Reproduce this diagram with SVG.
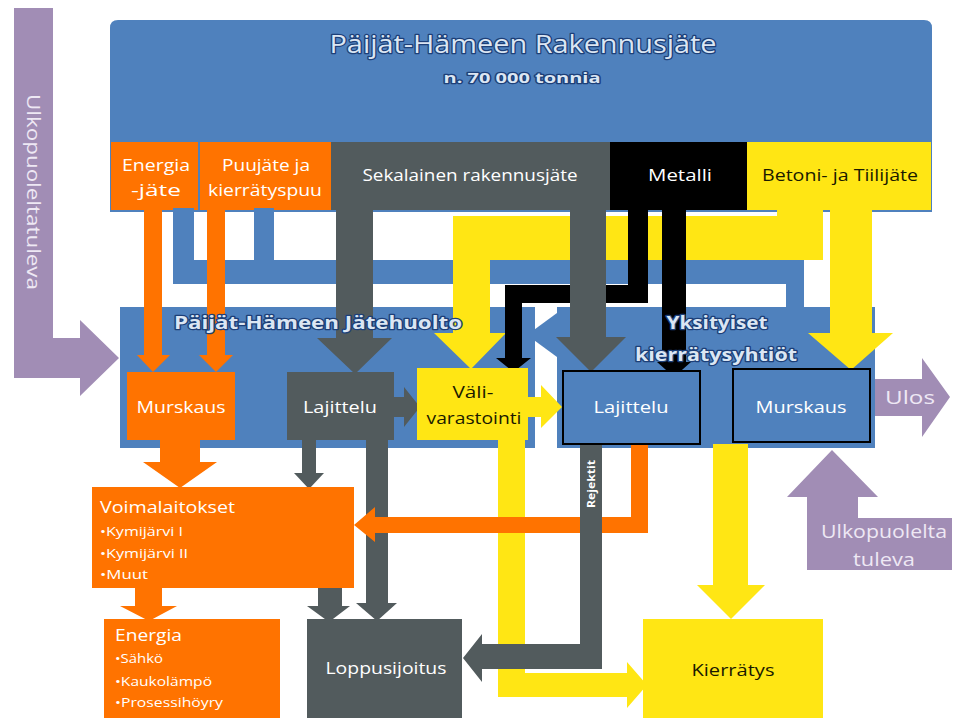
<svg xmlns="http://www.w3.org/2000/svg" width="957" height="718" viewBox="0 0 957 718">
  <style>
    .blue { fill: #4f81bd; }
    .orange { fill: #ff7300; }
    .gray { fill: #525b5d; }
    .black { fill: #000000; }
    .yellow { fill: #ffe614; }
    .purple { fill: #a18db5; }
    text { font-family: "Open Sans", "Liberation Sans", sans-serif; }
    .lbl { fill: #ffffff; font-size: 17px; text-anchor: middle; }
    .dark { fill: #1a1a00; font-size: 17px; text-anchor: middle; }
    .item { fill: #ffffff; font-size: 12px; }
    .head { fill: #ffffff; font-size: 17px; }
    .glow { fill: #dbe6f3; stroke: #1d3f78; stroke-width: 2.5; paint-order: stroke; stroke-linejoin: round; text-anchor: middle; }
    .side { fill: #eee8f4; font-size: 19px; text-anchor: middle; }
    .box { stroke: #000000; stroke-width: 2; }
  </style>

  <!-- incoming / outgoing flows from outside the region -->
  <g id="outside-left">
    <path class="purple" d="M14 8 H53 V338 H80 V320 L119 358 L80 396 V378 H14 Z"/>
    <text class="side" transform="translate(27 192) rotate(90)" textLength="196" lengthAdjust="spacingAndGlyphs" font-size="18">Ulkopuoleltatuleva</text>
  </g>
  <g id="outside-bottom">
    <path class="purple" d="M807 518 V497 H787 L832 450 L878 497 H858 V518 H952 V570 H807 Z"/>
    <text class="side" x="884" y="538" textLength="126" lengthAdjust="spacingAndGlyphs">Ulkopuolelta</text>
    <text class="side" x="884" y="566" textLength="62" lengthAdjust="spacingAndGlyphs">tuleva</text>
  </g>
  <g id="ulos">
    <path class="purple" d="M875 379 H922 V358 L950 397 L922 437 V416 H875 Z"/>
    <text class="side" x="910" y="404" font-size="20" textLength="50" lengthAdjust="spacingAndGlyphs">Ulos</text>
  </g>

  <!-- source: total construction waste and its fractions -->
  <g id="rakennusjate">
    <path class="blue" d="M110 212 V28 Q110 20 118 20 H924 Q932 20 932 28 V212 Z"/>
    <text class="glow" x="523" y="53" font-size="26" textLength="387" lengthAdjust="spacingAndGlyphs">Päijät-Hämeen Rakennusjäte</text>
    <text class="glow" x="522" y="83" font-size="15" stroke-width="2" font-weight="bold" textLength="157" lengthAdjust="spacingAndGlyphs">n. 70 000 tonnia</text>
  </g>
  <g id="energiajate">
    <rect class="orange" x="111" y="142" width="87" height="68"/>
    <text class="lbl" x="156" y="171" textLength="68" lengthAdjust="spacingAndGlyphs">Energia</text>
    <text class="lbl" x="156" y="196" textLength="50" lengthAdjust="spacingAndGlyphs">-jäte</text>
  </g>
  <g id="puujate">
    <rect class="orange" x="200" y="142" width="131" height="68"/>
    <text class="lbl" x="266" y="171" textLength="88" lengthAdjust="spacingAndGlyphs">Puujäte ja</text>
    <text class="lbl" x="265" y="196" textLength="114" lengthAdjust="spacingAndGlyphs">kierrätyspuu</text>
  </g>
  <g id="sekalainen">
    <rect class="gray" x="331" y="142" width="280" height="68"/>
    <text class="lbl" x="470" y="181" textLength="215" lengthAdjust="spacingAndGlyphs">Sekalainen rakennusjäte</text>
  </g>
  <g id="metalli">
    <rect class="black" x="610" y="142" width="137" height="68"/>
    <text class="lbl" x="680" y="181" textLength="64" lengthAdjust="spacingAndGlyphs">Metalli</text>
  </g>
  <g id="betoni">
    <rect class="yellow" x="747" y="142" width="184" height="68"/>
    <text class="dark" x="840" y="181" textLength="156" lengthAdjust="spacingAndGlyphs">Betoni- ja Tiilijäte</text>
  </g>

  <!-- treatment regions -->
  <g id="jatehuolto">
    <rect class="blue" x="120" y="307" width="415" height="141"/>
  </g>
  <g id="yksityiset">
    <rect class="blue" x="557" y="307" width="318" height="141"/>
  </g>

  <!-- material flows -->
  <g id="connectors">
    <path class="blue" d="M173 208 H194 V260 H254 V208 H274 V260 H804 V358 H812 L795 375 L778 358 H786 V284 H173 Z"/>
    <path class="blue" d="M557 313 L527 335 L557 357 Z"/>
    <path class="yellow" d="M453 216 H777 V210 H823 V260 H490 V333 H506 L471 369 L434 333 H453 Z"/>
    <path class="yellow" d="M830 210 H872 V333 H893 L851 370 L808 333 H830 Z"/>
    <path class="black" d="M628 210 H648 V303 H522 V358 H531 L513.5 372 L496 358 H505 V285 H628 Z"/>
    <path class="black" d="M662 210 H686 V362 H691 L674 377 L657 362 H662 Z"/>
    <path class="gray" d="M336 210 H373 V338 H392 L355 374 L317 338 H336 Z"/>
    <path class="gray" d="M570 210 H606 V337 H626 L591 372 L556 337 H570 Z"/>
    <path class="orange" d="M144 210 H162 V355 H170 L153 372 L137 355 H144 Z"/>
    <path class="orange" d="M207 210 H225 V355 H233 L216 372 L199 355 H207 Z"/>

    <path class="gray" d="M394 397 H404 V387 L420 407 L404 427 V417 H394 Z"/>
    <path class="yellow" d="M528 397 H541 V385 L562 407 L541 428 V417 H528 Z"/>

    <path class="orange" d="M160 440 H200 V462 H217 L180 488 L143 462 H160 Z"/>
    <path class="gray" d="M302 440 H316 V473 H324 L309 489 L294 473 H302 Z"/>
    <path class="gray" d="M366 440 H388 V603 H397 L377 621 L356 603 H366 Z"/>
    <path class="gray" d="M318 588 H342 V606 H350 L329 622 L307 606 H318 Z"/>
    <path class="orange" d="M135 588 H162 V606 H177 L149 621 L120 606 H135 Z"/>

    <path class="yellow" d="M498 440 H525 V673 H627 V662 L647 685 L627 708 V697 H498 Z"/>
    <path class="yellow" d="M713 444 H748 V585 H765 L731 619 L697 585 H713 Z"/>
    <path class="orange" d="M631 444 H648 V533 H375 V542 L354 525 L375 507 V517 H631 Z"/>
    <path class="gray" d="M580 444 H602 V669 H482 V682 L463 658 L482 634 V644 H580 Z"/>
    <text fill="#ffffff" font-size="11" font-weight="bold" text-anchor="middle" transform="translate(595 484) rotate(-90)" textLength="48" lengthAdjust="spacingAndGlyphs">Rejektit</text>
  </g>

  <!-- region titles sit above the flows -->
  <g id="jatehuolto-title">
    <text class="glow" x="318" y="329" font-size="18" font-weight="bold" textLength="288" lengthAdjust="spacingAndGlyphs">Päijät-Hämeen  Jätehuolto</text>
  </g>
  <g id="yksityiset-title">
    <text class="glow" x="717" y="329" font-size="18" font-weight="bold" textLength="101" lengthAdjust="spacingAndGlyphs">Yksityiset</text>
    <text class="glow" x="716" y="361" font-size="18" font-weight="bold" textLength="162" lengthAdjust="spacingAndGlyphs">kierrätysyhtiöt</text>
  </g>

  <!-- process steps -->
  <g id="murskaus-jh">
    <rect class="orange" x="127" y="372" width="108" height="68"/>
    <text class="lbl" x="181" y="413" textLength="89" lengthAdjust="spacingAndGlyphs">Murskaus</text>
  </g>
  <g id="lajittelu-jh">
    <rect class="gray" x="287" y="372" width="107" height="68"/>
    <text class="lbl" x="340" y="413" textLength="74" lengthAdjust="spacingAndGlyphs">Lajittelu</text>
  </g>
  <g id="valivarastointi">
    <rect class="yellow" x="417" y="368" width="111" height="72"/>
    <text class="dark" x="473" y="398" textLength="41" lengthAdjust="spacingAndGlyphs">Väli-</text>
    <text class="dark" x="474" y="424" textLength="95" lengthAdjust="spacingAndGlyphs">varastointi</text>
  </g>
  <g id="lajittelu-yks">
    <rect class="blue box" x="563" y="371" width="137" height="73"/>
    <text class="lbl" x="631" y="413" textLength="75" lengthAdjust="spacingAndGlyphs">Lajittelu</text>
  </g>
  <g id="murskaus-yks">
    <rect class="blue box" x="733" y="369" width="137" height="73"/>
    <text class="lbl" x="801" y="413" textLength="91" lengthAdjust="spacingAndGlyphs">Murskaus</text>
  </g>

  <!-- destinations -->
  <g id="voimalaitokset">
    <rect class="orange" x="92" y="487" width="262" height="101"/>
    <text class="head" x="100" y="513" textLength="135" lengthAdjust="spacingAndGlyphs">Voimalaitokset</text>
    <text class="item" x="100" y="536" textLength="83" lengthAdjust="spacingAndGlyphs">•Kymijärvi  I</text>
    <text class="item" x="100" y="558" textLength="88" lengthAdjust="spacingAndGlyphs">•Kymijärvi  II</text>
    <text class="item" x="100" y="579" textLength="48" lengthAdjust="spacingAndGlyphs">•Muut</text>
  </g>
  <g id="energia">
    <rect class="orange" x="104" y="619" width="176" height="99"/>
    <text class="head" x="115" y="641" textLength="67" lengthAdjust="spacingAndGlyphs">Energia</text>
    <text class="item" x="115" y="663" textLength="48" lengthAdjust="spacingAndGlyphs">•Sähkö</text>
    <text class="item" x="115" y="686" textLength="97" lengthAdjust="spacingAndGlyphs">•Kaukolämpö</text>
    <text class="item" x="115" y="707" textLength="108" lengthAdjust="spacingAndGlyphs">•Prosessihöyry</text>
  </g>
  <g id="loppusijoitus">
    <rect class="gray" x="307" y="619" width="155" height="99"/>
    <text class="lbl" x="386" y="674" textLength="121" lengthAdjust="spacingAndGlyphs">Loppusijoitus</text>
  </g>
  <g id="kierratys">
    <rect class="yellow" x="643" y="619" width="180" height="99"/>
    <text class="dark" x="733" y="676" textLength="83" lengthAdjust="spacingAndGlyphs">Kierrätys</text>
  </g>
</svg>
